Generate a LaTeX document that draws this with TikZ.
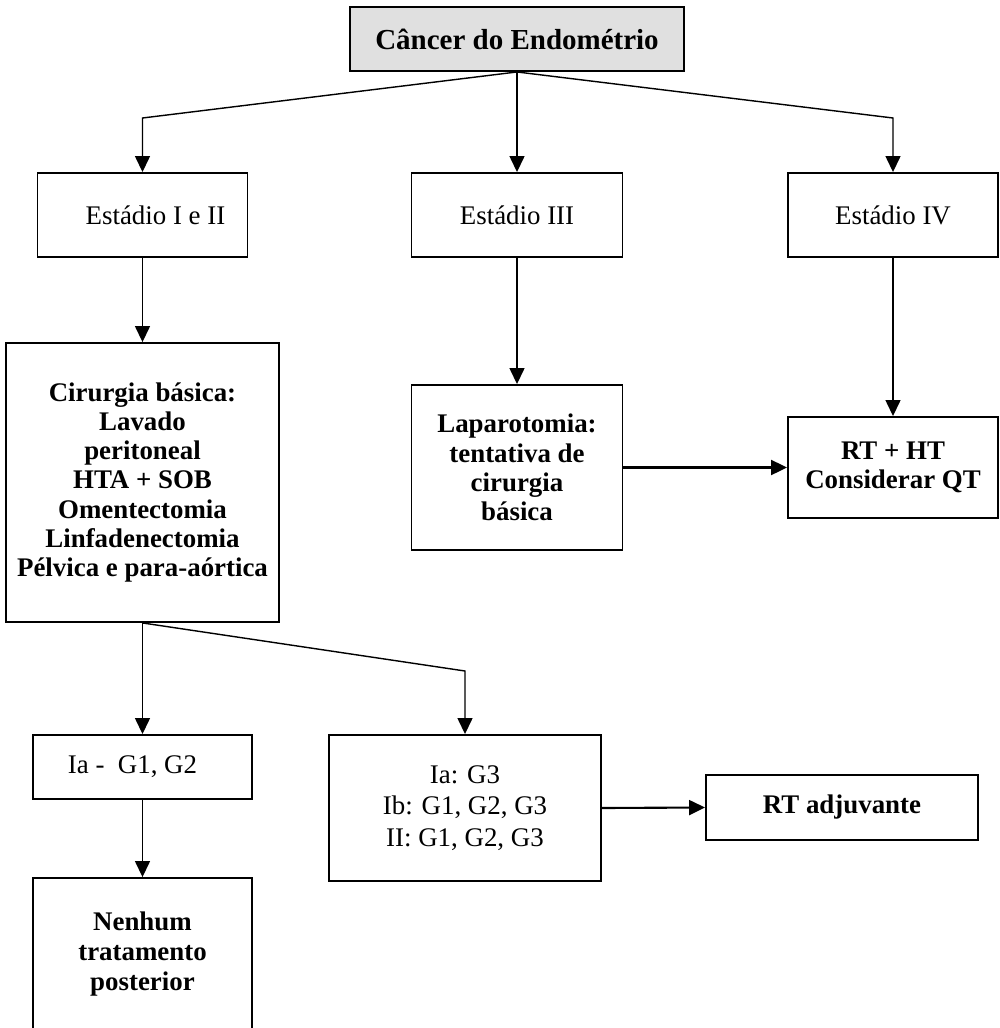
\documentclass[tikz,border=0pt]{standalone}
\usepackage{fontspec}
\setmainfont{Liberation Serif}
\usetikzlibrary{arrows.meta}
\definecolor{headgray}{RGB}{224,224,224}
\begin{document}
\begin{tikzpicture}[x=0.02cm,y=-0.02cm,
  box/.style={draw,line width=1.1pt,inner sep=0pt,align=center,
    font=\fontsize{15.3}{16.6}\selectfont},
  bbox/.style={box,font=\fontsize{15.3}{16.6}\selectfont\bfseries},
  conn/.style={line width=0.8pt,-{Triangle[length=0.32cm,width=0.3cm]}}]
\useasboundingbox (0,0) rectangle (1000,1028);

% header
\node[bbox,fill=headgray,minimum width=6.68cm,minimum height=1.28cm,
  font=\fontsize{16.5}{18}\selectfont\bfseries] (top) at (517,39) {Câncer do Endométrio};

% stages
\node[box,minimum width=4.2cm,minimum height=1.68cm] (e12) at (142.5,215) {\hspace*{0.52cm}Estádio I e II};
\node[box,minimum width=4.22cm,minimum height=1.68cm] (e3) at (517,215) {Estádio III};
\node[box,minimum width=4.2cm,minimum height=1.68cm] (e4) at (893,215) {Estádio IV};

% treatments
\node[bbox,minimum width=5.46cm,minimum height=5.58cm] (cir) at (142.5,482.5)
  {Cirurgia básica:\\Lavado\\peritoneal\\HTA + SOB\\Omentectomia\\Linfadenectomia\\Pélvica e para-aórtica};
\node[bbox,minimum width=4.22cm,minimum height=3.3cm] (lap) at (517,467.5)
  {Laparotomia:\\tentativa de\\cirurgia\\básica};
\node[bbox,minimum width=4.2cm,minimum height=2.02cm] (rtht) at (893,467.5)
  {RT + HT\\Considerar QT};

% sub-stages
\node[box,minimum width=4.38cm,minimum height=1.28cm] (ia1) at (142.5,767) {Ia -\ \ G1, G2\hspace*{0.4cm}};
\node[box,minimum width=5.44cm,minimum height=2.92cm,
  font=\fontsize{15.3}{18.1}\selectfont] (ia3) at (465,808)
  {Ia: G3\\Ib: G1, G2, G3\\II: G1, G2, G3};
\node[bbox,minimum width=5.44cm,minimum height=1.3cm] (rtadj) at (842,807.5) {RT adjuvante};

% final box runs off the lower edge
\node[box,minimum width=4.38cm,minimum height=3.4cm] (nen) at (142.5,963) {};
\node[align=center,inner sep=0pt,font=\fontsize{15.3}{17.3}\selectfont\bfseries] (nentxt) at (142.5,954)
  {Nenhum\\tratamento\\posterior};

% connectors
\coordinate (bl) at (142.5,118);
\coordinate (br) at (893,118);
\coordinate (bm) at (465,671);
\draw[conn] (top.south) -- (bl) -- (e12.north);
\draw[conn] (top.south) -- (e3.north);
\draw[conn] (top.south) -- (br) -- (e4.north);
\draw[conn] (e12.south) -- (cir.north);
\draw[conn] (e3.south) -- (lap.north);
\draw[conn] (e4.south) -- (rtht.north);
\draw[conn,line width=1.2pt] (lap.east) -- (rtht.west);
\draw[conn] (cir.south) -- (ia1.north);
\draw[conn] (cir.south) -- (bm) -- (ia3.north);
\draw[conn] (ia1.south) -- (nen.north);
\draw[conn,line width=1.2pt] (ia3.east) -- (rtadj.west);
\end{tikzpicture}
\end{document}
